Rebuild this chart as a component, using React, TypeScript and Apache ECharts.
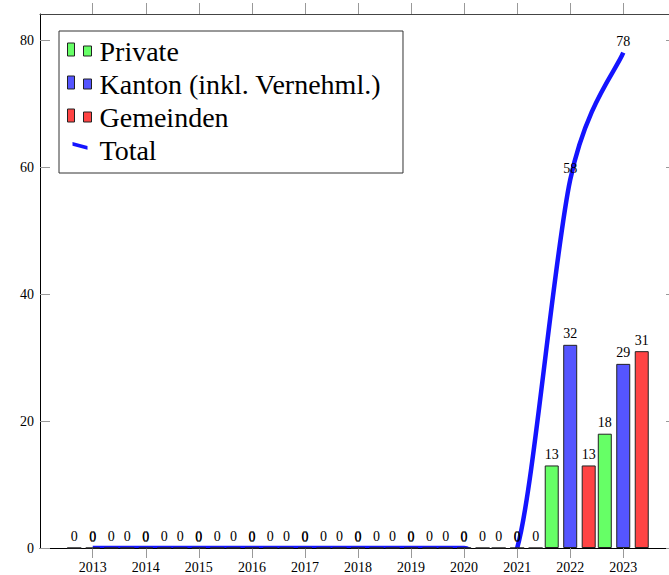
import React, { useEffect, useRef } from 'react';
import * as echarts from 'echarts';

const years = [2013, 2014, 2015, 2016, 2017, 2018, 2019, 2020, 2021, 2022, 2023];
const privateValues = [0, 0, 0, 0, 0, 0, 0, 0, 0, 13, 18];
const kantonValues = [0, 0, 0, 0, 0, 0, 0, 0, 0, 32, 29];
const gemeindenValues = [0, 0, 0, 0, 0, 0, 0, 0, 0, 13, 31];
const totalValues = [0, 0, 0, 0, 0, 0, 0, 0, 0, 58, 78];
const yTickValues = [0, 20, 40, 60, 80];
const seriesNames = ['Private', 'Kanton (inkl. Vernehml.)', 'Gemeinden', 'Total'];

const FONT = 'Liberation Serif, Times New Roman, Times, DejaVu Serif, serif';
const GREEN = '#66ff66';
const BLUE = '#5555ff';
const RED = '#ff4444';
const LINE = '#1414ff';
const TENSION = 0.55 * 0.2761;

const barIcon = 'path://M0,0 M27,17 M0,0h7v13h-7z M16,3h8v10h-8z';
const lineIcon = 'path://M0,0 M27,17 M5,0 L20,4 L20,7.8 L5,3.8 Z';

function toPairs(vals: number[]) {
  return years.map((y, i) => [y, vals[i]]);
}

function barSeries(name: string, vals: number[], color: string) {
  return {
    type: 'bar',
    name,
    data: toPairs(vals),
    barWidth: 14,
    barGap: '32%',
    itemStyle: { color, borderColor: '#222', borderWidth: 1 },
    label: {
      show: true,
      position: 'top',
      distance: 4,
      color: '#000',
      fontFamily: FONT,
      fontSize: 14,
      formatter: (p: any) => String(p.value[1]),
    },
    emphasis: { disabled: true },
  };
}

export default function App() {
  const ref = useRef<HTMLDivElement>(null);

  useEffect(() => {
    if (!ref.current) return;
    const chart = echarts.init(ref.current, null, { renderer: 'svg' });

    const xMin = 2012.006;
    const xMax = 2023.994;
    const yMax = 84.1;

    const option: any = {
      animation: false,
      textStyle: { fontFamily: FONT },
      grid: { left: 40, top: 14, right: 4, bottom: 27, containLabel: false },
      legend: {
        orient: 'vertical',
        left: 59,
        top: 31,
        padding: [4, 22, 6, 8],
        itemGap: 0,
        itemWidth: 27,
        itemHeight: 17,
        backgroundColor: '#fff',
        borderColor: '#333',
        borderWidth: 1,
        borderRadius: 0,
        selectedMode: false,
        textStyle: { fontFamily: FONT, fontSize: 28, color: '#000', lineHeight: 33 },
        data: [
          { name: seriesNames[0], icon: barIcon, itemStyle: { color: GREEN, borderColor: '#222', borderWidth: 1 } },
          { name: seriesNames[1], icon: barIcon, itemStyle: { color: BLUE, borderColor: '#222', borderWidth: 1 } },
          { name: seriesNames[2], icon: barIcon, itemStyle: { color: RED, borderColor: '#222', borderWidth: 1 } },
          { name: seriesNames[3], icon: lineIcon, itemStyle: { color: LINE, borderWidth: 0 } },
        ],
      },
      xAxis: [
        {
          type: 'value',
          position: 'bottom',
          min: xMin,
          max: xMax,
          axisLine: { show: true, onZero: false, lineStyle: { color: '#000', width: 1 } },
          axisTick: { show: true, inside: false, length: 10, customValues: years, lineStyle: { color: '#999' } },
          axisLabel: {
            show: true,
            customValues: years,
            margin: 12,
            color: '#000',
            fontFamily: FONT,
            fontSize: 14,
            formatter: (v: number) => String(v),
          },
          splitLine: { show: false },
        },
        {
          type: 'value',
          position: 'top',
          min: xMin,
          max: xMax,
          axisLine: { show: true, onZero: false, lineStyle: { color: '#444', width: 1 } },
          axisTick: { show: true, inside: false, length: 11, customValues: years, lineStyle: { color: '#999' } },
          axisLabel: { show: false },
          splitLine: { show: false },
        },
      ],
      yAxis: [
        {
          type: 'value',
          position: 'left',
          min: 0,
          max: yMax,
          axisLine: { show: true, onZero: false, lineStyle: { color: '#000', width: 1 } },
          axisTick: { show: true, inside: true, length: 10, customValues: yTickValues, lineStyle: { color: '#999' } },
          axisLabel: {
            show: true,
            customValues: yTickValues,
            margin: 6,
            color: '#000',
            fontFamily: FONT,
            fontSize: 14,
            formatter: (v: number) => String(v),
          },
          splitLine: { show: false },
        },
        {
          type: 'value',
          position: 'right',
          min: 0,
          max: yMax,
          axisLine: { show: true, onZero: false, lineStyle: { color: '#444', width: 1 } },
          axisTick: { show: true, inside: true, length: 10, customValues: yTickValues, lineStyle: { color: '#999' } },
          axisLabel: { show: false },
          splitLine: { show: false },
        },
      ],
      series: [
        barSeries(seriesNames[0], privateValues, GREEN),
        barSeries(seriesNames[1], kantonValues, BLUE),
        barSeries(seriesNames[2], gemeindenValues, RED),
        {
          type: 'custom',
          name: seriesNames[3],
          coordinateSystem: 'cartesian2d',
          xAxisIndex: 0,
          yAxisIndex: 0,
          clip: true,
          encode: { x: 0, y: 1 },
          itemStyle: { color: LINE },
          data: toPairs(totalValues),
          renderItem: (params: any, api: any) => {
            const children: any[] = [];
            const pt = api.coord([api.value(0), api.value(1)]);
            if (params.dataIndex === 0) {
              const pts = years.map((y, i) => api.coord([y, totalValues[i]]));
              const n = pts.length;
              let d = `M${pts[0][0]},${pts[0][1]}`;
              for (let i = 0; i < n - 1; i++) {
                const p0 = pts[i];
                const p1 = pts[i + 1];
                const prev = pts[Math.max(i - 1, 0)];
                const next = pts[Math.min(i + 2, n - 1)];
                const c1x = p0[0] + TENSION * (p1[0] - prev[0]);
                const c1y = p0[1] + TENSION * (p1[1] - prev[1]);
                const c2x = p1[0] - TENSION * (next[0] - p0[0]);
                const c2y = p1[1] - TENSION * (next[1] - p0[1]);
                d += ` C${c1x},${c1y} ${c2x},${c2y} ${p1[0]},${p1[1]}`;
              }
              children.push({
                type: 'path',
                shape: { pathData: d },
                style: { stroke: LINE, lineWidth: 4.5, fill: 'none' },
              });
            }
            children.push({
              type: 'text',
              x: pt[0],
              y: pt[1] - 4,
              style: {
                text: String(api.value(1)),
                fill: '#000',
                fontFamily: FONT,
                fontSize: 14,
                align: 'center',
                verticalAlign: 'bottom',
              },
            });
            return { type: 'group', children };
          },
        },
      ],
    };

    chart.setOption(option);
    return () => {
      chart.dispose();
    };
  }, []);

  return (
    <div
      ref={ref}
      style={{ position: 'fixed', left: 0, top: 0, width: 680, height: 575, background: '#fff' }}
    />
  );
}
